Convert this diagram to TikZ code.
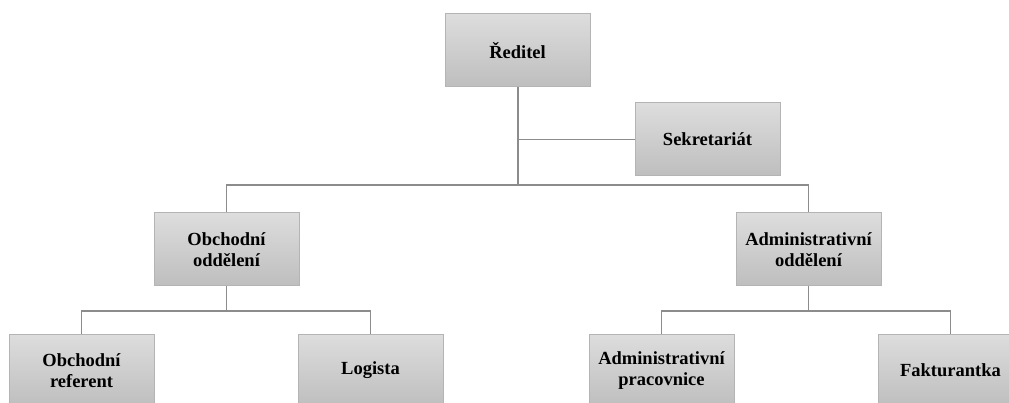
\documentclass[tikz,border=0pt]{standalone}
\usepackage{fontspec}
\setmainfont{Liberation Serif}
\definecolor{boxtop}{HTML}{DDDDDD}
\definecolor{boxbot}{HTML}{BEBEBE}
\definecolor{boxline}{HTML}{B4B4B4}
\definecolor{wire}{HTML}{8C8C8C}
\tikzset{
  unit/.style={rectangle, minimum width=145pt, minimum height=73pt,
    top color=boxtop, bottom color=boxbot, draw=boxline, line width=1pt,
    align=center, inner sep=2pt,
    font=\bfseries\fontsize{18.5}{21.5}\selectfont},
  wire/.style={draw=wire, line width=1.3pt},
  trunk/.style={draw=wire, line width=2pt}
}
\begin{document}
\begin{tikzpicture}[x=1pt, y=-1pt]
  \clip (0,0) rectangle (1009,403);
  \fill[white] (0,0) rectangle (1009,403);

  \node[unit] (red) at (517.5,50.5) {Ředitel};
  \node[unit] (sek) at (707.5,139.5) {Sekretariát};
  \node[unit] (obch) at (226.5,249.5) {Obchodní\\oddělení};
  \node[unit] (adm) at (808.5,249.5) {Administrativní\\oddělení};
  \node[unit] (ref) at (81.5,370.5) {Obchodní\\referent};
  \node[unit] (log) at (370.5,370.5) {Logista};
  \node[unit] (prac) at (661.5,370.5) {Administrativní\\pracovnice};
  \node[unit] (fak) at (950.5,370.5) {Fakturantka};

  \coordinate (bus1) at (517.5,185);
  \coordinate (bus2) at (0,311);

  % director down to the department bus
  \draw[trunk] (red.south) -- (bus1);
  \draw[wire] (sek.west) -- (sek.west -| red.south);
  \draw[wire] (obch.north) -- (obch.north |- bus1) -- (adm.north |- bus1) -- (adm.north);

  % departments down to their staff
  \draw[wire] (obch.south) -- (obch.south |- bus2);
  \draw[wire] (ref.north) -- (ref.north |- bus2) -| (log.north);
  \draw[wire] (adm.south) -- (adm.south |- bus2);
  \draw[wire] (prac.north) -- (prac.north |- bus2) -| (fak.north);
\end{tikzpicture}
\end{document}
